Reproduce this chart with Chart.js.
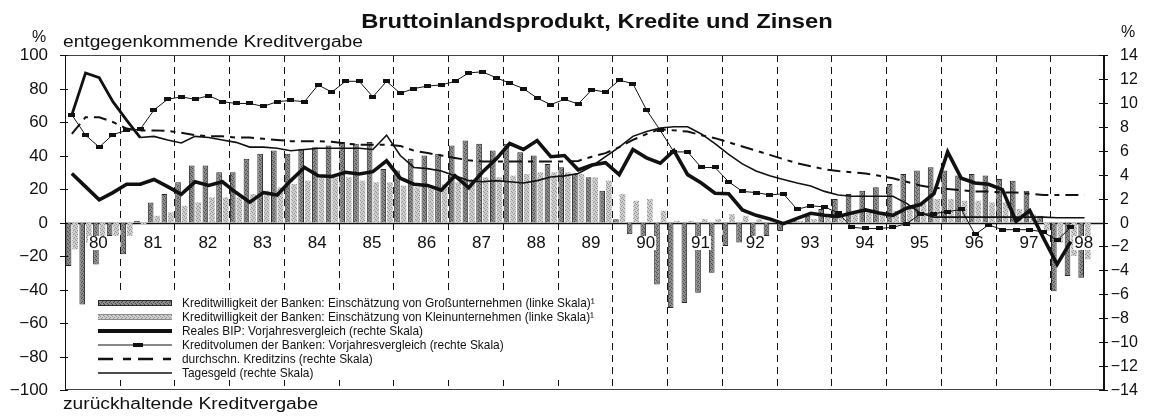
<!DOCTYPE html>
<html>
<head>
<meta charset="utf-8">
<script src="https://cdn.jsdelivr.net/npm/chart.js@4/dist/chart.umd.min.js"></script>
<style>
  html, body { margin: 0; padding: 0; background: #fff; }
  #wrap { width: 1152px; height: 416px; }
</style>
</head>
<body>
<div id="wrap"><canvas id="chart" width="1152" height="416"></canvas></div>
<script>
// ------------------------------------------------------------------
// Data (quarterly, 1980 Q1 .. 1998 Q4)
// ------------------------------------------------------------------

const yearLabels = ['80', '81', '82', '83', '84', '85', '86', '87', '88', '89',
                    '90', '91', '92', '93', '94', '95', '96', '97', '98'];
const quarters = yearLabels.flatMap(y => ['Q1', 'Q2', 'Q3', 'Q4'].map(q => y + q));

// Kreditwilligkeit der Banken, Großunternehmen (linke Skala)
const grossUnternehmen = [
    -26, -49, -25, -8,
    -19, 1, 12, 17,
    24, 34, 34, 30,
    30, 38, 41, 43,
    41, 44, 45, 46,
    48, 47, 48, 32,
    31, 38, 40, 41,
    46, 49, 47, 43,
    47, 42, 40, 35,
    33, 29, 27, 19,
    2, -7, -10, -37,
    -51, -48, -42, -30,
    -14, -12, -11, -8,
    -5, 2, 4, 8,
    14, 17, 19, 21,
    23, 29, 31, 33,
    31, 28, 29, 28,
    26, 25, 19, 4,
    -41, -32, -33, null,
];

// Kreditwilligkeit der Banken, Kleinunternehmen (linke Skala)
const kleinUnternehmen = [
    -16, -12, -12, -8,
    -8, -1, 4, 6,
    10, 12, 15, 15,
    15, 17, 19, 21,
    23, 25, 27, 27,
    27, 25, 24, 24,
    22, 21, 22, 23,
    24, 26, 27, 27,
    28, 29, 30, 30,
    30, 29, 27, 25,
    17, 13, 14, 7,
    1, 1, 2, 2,
    5, 4, 2, 1,
    0, 1, 2, 4,
    4, 5, 6, 6,
    7, 10, 12, 14,
    14, 13, 13, 12,
    12, 8, 5, -5,
    -12, -20, -22, null,
];

// Reales BIP, Vorjahresvergleich (rechte Skala)
const realesBip = [
    4.1, 3.0, 1.9, 2.5,
    3.2, 3.2, 3.6, 3.0,
    2.35, 3.4, 3.1, 3.4,
    2.5, 1.7, 2.5, 2.3,
    3.5, 4.6, 3.9, 3.85,
    4.2, 4.05, 4.25, 5.15,
    3.7, 3.2, 3.1, 2.7,
    3.9, 2.9, 4.2, 5.3,
    6.6, 6.1, 6.85, 5.5,
    5.6, 4.4, 4.8, 5.0,
    4.0, 6.1, 5.4, 4.95,
    6.0, 4.0, 3.3, 2.45,
    2.4, 1.05, 0.6, 0.3,
    -0.1, 0.35, 0.77, 0.6,
    0.5, 0.8, 1.05, 0.8,
    0.6, 1.2, 1.5, 2.4,
    5.9, 3.7, 3.3, 3.2,
    2.75, 0.1, 1.0, -1.3,
    -3.5, -1.6, null, null,
];

// Kreditvolumen der Banken, Vorjahresvergleich (rechte Skala)
const kreditvolumen = [
    9.0, 7.3, 6.3, 7.35,
    7.7, 7.8, 9.4, 10.3,
    10.5, 10.3, 10.6, 10.1,
    9.95, 9.95, 9.7, 10.1,
    10.2, 10.1, 11.5, 10.9,
    11.8, 11.8, 10.5, 11.8,
    10.8, 11.2, 11.4, 11.5,
    11.8, 12.5, 12.6, 12.1,
    11.65, 11.2, 10.4, 9.85,
    10.3, 9.9, 11.1, 10.9,
    11.9, 11.6, 9.4, 7.7,
    5.9, 5.9, 4.6, 4.6,
    3.4, 2.6, 2.5, 2.3,
    2.4, 1.1, 1.4, 1.3,
    0.8, -0.4, -0.5, -0.5,
    -0.4, -0.1, 0.7, 0.75,
    0.9, 1.1, -1.0, -0.2,
    -0.6, -0.6, -0.6, -0.8,
    -1.5, -0.4, null, null,
];

// durchschnittlicher Kreditzins (rechte Skala)
const kreditzins = [
    7.4, 8.8, 8.8, 8.4,
    7.85, 7.7, 7.7, 7.65,
    7.5, 7.3, 7.2, 7.2,
    7.1, 7.1, 7.0, 6.9,
    6.8, 6.8, 6.8, 6.75,
    6.6, 6.5, 6.5, 6.5,
    6.4, 6.0, 5.8, 5.6,
    5.4, 5.2, 5.1, 5.1,
    5.1, 5.1, 5.1, 5.1,
    5.1, 5.15, 5.5, 5.8,
    6.3, 6.9, 7.4, 7.8,
    7.7, 7.6, 7.3, 7.05,
    6.7, 6.35, 6.0, 5.65,
    5.3, 4.95, 4.7, 4.45,
    4.3, 4.2, 4.1, 3.9,
    3.7, 3.4, 3.1, 2.9,
    2.8, 2.7, 2.6, 2.6,
    2.5, 2.5, 2.4, 2.3,
    2.3, 2.3, 2.3, null,
];

// Tagesgeld (rechte Skala)
const tagesgeld = [
    9.0, 12.5, 12.1, 10.1,
    8.55, 7.1, 7.2, 6.9,
    6.65, 7.2, 7.1, 6.9,
    6.7, 6.3, 6.3, 6.2,
    6.0, 6.1, 6.2, 6.2,
    6.2, 6.2, 6.1, 7.3,
    5.6, 4.6, 4.5, 4.3,
    3.9, 3.5, 3.4, 3.5,
    3.4, 3.3, 3.5, 3.8,
    3.9, 4.1, 4.7, 5.5,
    6.3, 7.2, 7.6, 7.9,
    8.0, 8.0, 7.4, 6.6,
    5.7, 4.9, 4.3, 3.9,
    3.6, 3.3, 3.05, 2.6,
    2.3, 2.2, 2.2, 2.2,
    2.2, 1.6, 0.8, 0.45,
    0.45, 0.45, 0.45, 0.45,
    0.45, 0.45, 0.45, 0.45,
    0.4, 0.4, 0.4, null,
];

const leftTicks = [100, 80, 60, 40, 20, 0, -20, -40, -60, -80, -100];
const rightTicks = [14, 12, 10, 8, 6, 4, 2, 0, -2, -4, -6, -8, -10, -12, -14];

const legendTexts = [
    'Kreditwilligkeit der Banken: Einschätzung von Großunternehmen (linke Skala)¹',
    'Kreditwilligkeit der Banken: Einschätzung von Kleinunternehmen (linke Skala)¹',
    'Reales BIP: Vorjahresvergleich (rechte Skala)',
    'Kreditvolumen der Banken: Vorjahresvergleich (rechte Skala)',
    'durchschn. Kreditzins (rechte Skala)',
    'Tagesgeld (rechte Skala)',
];

// ------------------------------------------------------------------
// Styles
// ------------------------------------------------------------------

const FONT = '"Liberation Sans", Arial, sans-serif';
const INK = '#111';
const DARK_EDGE = '#2a2a2a';
const ZINS_DASH = [13, 6, 5, 6];

// small fixed dither tiles so the bars look like the printed screen
function make_tile(base, dots) {
    const c = document.createElement('canvas');
    c.width = 4;
    c.height = 4;
    const g = c.getContext('2d');
    g.fillStyle = base;
    g.fillRect(0, 0, 4, 4);
    g.fillStyle = dots;
    [[0, 0], [2, 1], [1, 2], [3, 3]].forEach(([x, y]) => g.fillRect(x, y, 1, 1));
    return g.createPattern(c, 'repeat');
}
const DARK_BAR = make_tile('#8c8c8c', '#4a4a4a');
const LIGHT_BAR = make_tile('#cfcfcf', '#8f8f8f');

function make_marker(w, h) {
    const c = document.createElement('canvas');
    c.width = w;
    c.height = h;
    const g = c.getContext('2d');
    g.fillStyle = INK;
    g.fillRect(0, 0, w, h);
    return c;
}
const volumeMarker = make_marker(7, 4);

function draw_text(ctx, str, x, y, font, align, sx, baseline) {
    ctx.save();
    ctx.font = font;
    ctx.textAlign = align || 'left';
    ctx.textBaseline = baseline || 'alphabetic';
    ctx.fillStyle = INK;
    ctx.translate(x, y);
    ctx.scale(sx || 1, 1);
    ctx.fillText(str, 0, 0);
    ctx.restore();
}

// ------------------------------------------------------------------
// Plugin: frame, year grid, labels, legend
// ------------------------------------------------------------------

const decorations = {
    id: 'decorations',
    beforeDatasetsDraw(chart) {
        const { ctx, chartArea: a, scales } = chart;
        const slot = (a.right - a.left) / quarters.length;
        ctx.save();
        ctx.strokeStyle = INK;
        ctx.lineWidth = 1;
        ctx.setLineDash([7, 5]);
        for (let k = 1; k < yearLabels.length; k++) {
            const x = Math.round(a.left + k * 4 * slot) + 0.5;
            ctx.beginPath();
            ctx.moveTo(x, a.top);
            ctx.lineTo(x, a.bottom);
            ctx.stroke();
        }
        ctx.setLineDash([]);
        const y0 = Math.round(scales.y.getPixelForValue(0)) + 0.5;
        ctx.lineWidth = 1.3;
        ctx.beginPath();
        ctx.moveTo(a.left, y0);
        ctx.lineTo(a.right, y0);
        ctx.stroke();
        ctx.restore();
    },
    afterDatasetDraw(chart, args) {
        // year labels and legend sit above the bars but below the lines
        if (args.index !== 0) return;
        const { ctx, chartArea: a } = chart;
        const slot = (a.right - a.left) / quarters.length;
        ctx.save();
        ctx.font = '17px ' + FONT;
        yearLabels.forEach((lab, i) => {
            const cx = a.left + (4 * i + 2) * slot + 6;
            const w = ctx.measureText(lab).width;
            ctx.fillStyle = '#fff';
            ctx.fillRect(cx - w / 2 - 1, 236, w + 2, 14);
            draw_text(ctx, lab, cx, 243.5, '17px ' + FONT, 'center', 1, 'middle');
        });

        // legend inside the plot, on a white ground
        ctx.fillStyle = '#fff';
        ctx.fillRect(95, 294, 498, 86);
        const lx0 = 98, lx1 = 172, tx = 182, ly0 = 303, step = 14;
        legendTexts.forEach((t, i) => {
            const y = ly0 + i * step;
            ctx.save();
            ctx.strokeStyle = INK;
            if (i === 0) {
                ctx.fillStyle = DARK_BAR;
                ctx.fillRect(lx0, y - 3, lx1 - lx0, 6);
                ctx.strokeStyle = DARK_EDGE;
                ctx.strokeRect(lx0 + 0.5, y - 2.5, lx1 - lx0 - 1, 5);
            } else if (i === 1) {
                ctx.fillStyle = LIGHT_BAR;
                ctx.fillRect(lx0, y - 3, lx1 - lx0, 6);
                ctx.fillStyle = '#8a8a8a';
                ctx.fillRect(lx0, y - 3, lx1 - lx0, 1);
                ctx.fillRect(lx0, y + 2, lx1 - lx0, 1);
            } else {
                ctx.lineWidth = [4, 1.2, 2.5, 1.6][i - 2];
                if (i === 4) ctx.setLineDash([15, 10, 8, 7]);
                ctx.beginPath();
                ctx.moveTo(lx0, y);
                ctx.lineTo(lx1, y);
                ctx.stroke();
                if (i === 3) {
                    ctx.fillStyle = INK;
                    ctx.fillRect(133, y - 2, 10, 4);
                }
            }
            ctx.restore();
            draw_text(ctx, t, tx, y + 0.5, '13.5px ' + FONT, 'left', 0.88, 'middle');
        });
        ctx.restore();
    },
    afterDraw(chart) {
        const { ctx, chartArea: a, scales } = chart;
        ctx.save();

        // frame
        ctx.strokeStyle = '#444';
        ctx.lineWidth = 1;
        ctx.beginPath();
        ctx.moveTo(a.left, a.top + 0.5);
        ctx.lineTo(a.right, a.top + 0.5);
        ctx.moveTo(a.left, a.bottom - 0.5);
        ctx.lineTo(a.right, a.bottom - 0.5);
        ctx.stroke();
        ctx.strokeStyle = INK;
        ctx.beginPath();
        ctx.moveTo(a.left + 0.5, a.top);
        ctx.lineTo(a.left + 0.5, a.bottom);
        ctx.stroke();
        ctx.lineWidth = 2;
        ctx.beginPath();
        ctx.moveTo(a.right - 1, a.top);
        ctx.lineTo(a.right - 1, a.bottom);
        ctx.stroke();

        // tick marks and tick labels
        ctx.lineWidth = 1;
        leftTicks.forEach(v => {
            const y = Math.round(scales.y.getPixelForValue(v)) + 0.5;
            ctx.beginPath();
            ctx.moveTo(a.left - 5, y);
            ctx.lineTo(a.left + 3, y);
            ctx.stroke();
            draw_text(ctx, String(v).replace('-', '−'), 48, y + 0.5, '16px ' + FONT, 'right', 1.06, 'middle');
        });
        ctx.font = '16px ' + FONT;
        const minusW = ctx.measureText('−').width;
        rightTicks.forEach(v => {
            const y = Math.round(scales.y2.getPixelForValue(v)) + 0.5;
            ctx.beginPath();
            ctx.moveTo(a.right - 6, y);
            ctx.lineTo(a.right + 3, y);
            ctx.stroke();
            const x = v < 0 ? 1120 - minusW : 1120;
            draw_text(ctx, String(v).replace('-', '−'), x, y + 0.5, '16px ' + FONT, 'left', 1, 'middle');
        });

        // title and axis captions
        draw_text(ctx, 'Bruttoinlandsprodukt, Kredite und Zinsen', 597, 28, 'bold 20.5px ' + FONT, 'center', 1.16);
        draw_text(ctx, '%', 32, 42, '16px ' + FONT, 'left', 1);
        draw_text(ctx, '%', 1121, 37, '16px ' + FONT, 'left', 1);
        draw_text(ctx, 'entgegenkommende Kreditvergabe', 63, 47, '16px ' + FONT, 'left', 1.2);
        draw_text(ctx, 'zurückhaltende Kreditvergabe', 63, 409, '16px ' + FONT, 'left', 1.2);

        ctx.restore();
    },
};

// ------------------------------------------------------------------
// Chart
// ------------------------------------------------------------------

const lineBase = {
    type: 'line',
    yAxisID: 'y2',
    borderColor: INK,
    backgroundColor: INK,
    pointRadius: 0,
    tension: 0,
    fill: false,
    spanGaps: false,
};

new Chart(document.getElementById('chart'), {
    type: 'bar',
    data: {
        labels: quarters,
        datasets: [
            {
                label: legendTexts[0],
                data: grossUnternehmen,
                yAxisID: 'y',
                backgroundColor: DARK_BAR,
                borderColor: DARK_EDGE,
                borderWidth: 1,
                barPercentage: 0.86,
                categoryPercentage: 0.96,
                order: 10,
            },
            {
                label: legendTexts[1],
                data: kleinUnternehmen,
                yAxisID: 'y',
                backgroundColor: LIGHT_BAR,
                borderWidth: 0,
                barPercentage: 0.86,
                categoryPercentage: 0.96,
                order: 11,
            },
            { ...lineBase, label: legendTexts[2], data: realesBip, borderWidth: 3.6, order: 1 },
            {
                ...lineBase,
                label: legendTexts[3],
                data: kreditvolumen,
                borderWidth: 1,
                pointStyle: volumeMarker,
                pointRadius: 3,
                order: 2,
            },
            { ...lineBase, label: legendTexts[4], data: kreditzins, borderWidth: 2, borderDash: ZINS_DASH, order: 3 },
            {
                ...lineBase,
                label: legendTexts[5],
                data: tagesgeld,
                borderWidth: 1.6,
                // the printed line is heavier through the 1980/81 peak
                segment: { borderWidth: s => (s.p0DataIndex < 5 ? 2.8 : 1.6) },
                order: 4,
            },
        ],
    },
    options: {
        responsive: false,
        animation: false,
        devicePixelRatio: 1,
        layout: { padding: { top: 55, bottom: 26, left: 0, right: 0 } },
        plugins: {
            legend: { display: false },
            tooltip: { enabled: false },
            title: { display: false },
        },
        scales: {
            x: { type: 'category', display: false, offset: true },
            y: {
                position: 'left',
                min: -100,
                max: 100,
                ticks: { display: false },
                grid: { display: false },
                border: { display: false },
                afterFit(s) { s.width = 65; },
            },
            y2: {
                position: 'right',
                min: -14,
                max: 14,
                ticks: { display: false },
                grid: { display: false },
                border: { display: false },
                afterFit(s) { s.width = 47; },
            },
        },
    },
    plugins: [decorations],
});
</script>
</body>
</html>
